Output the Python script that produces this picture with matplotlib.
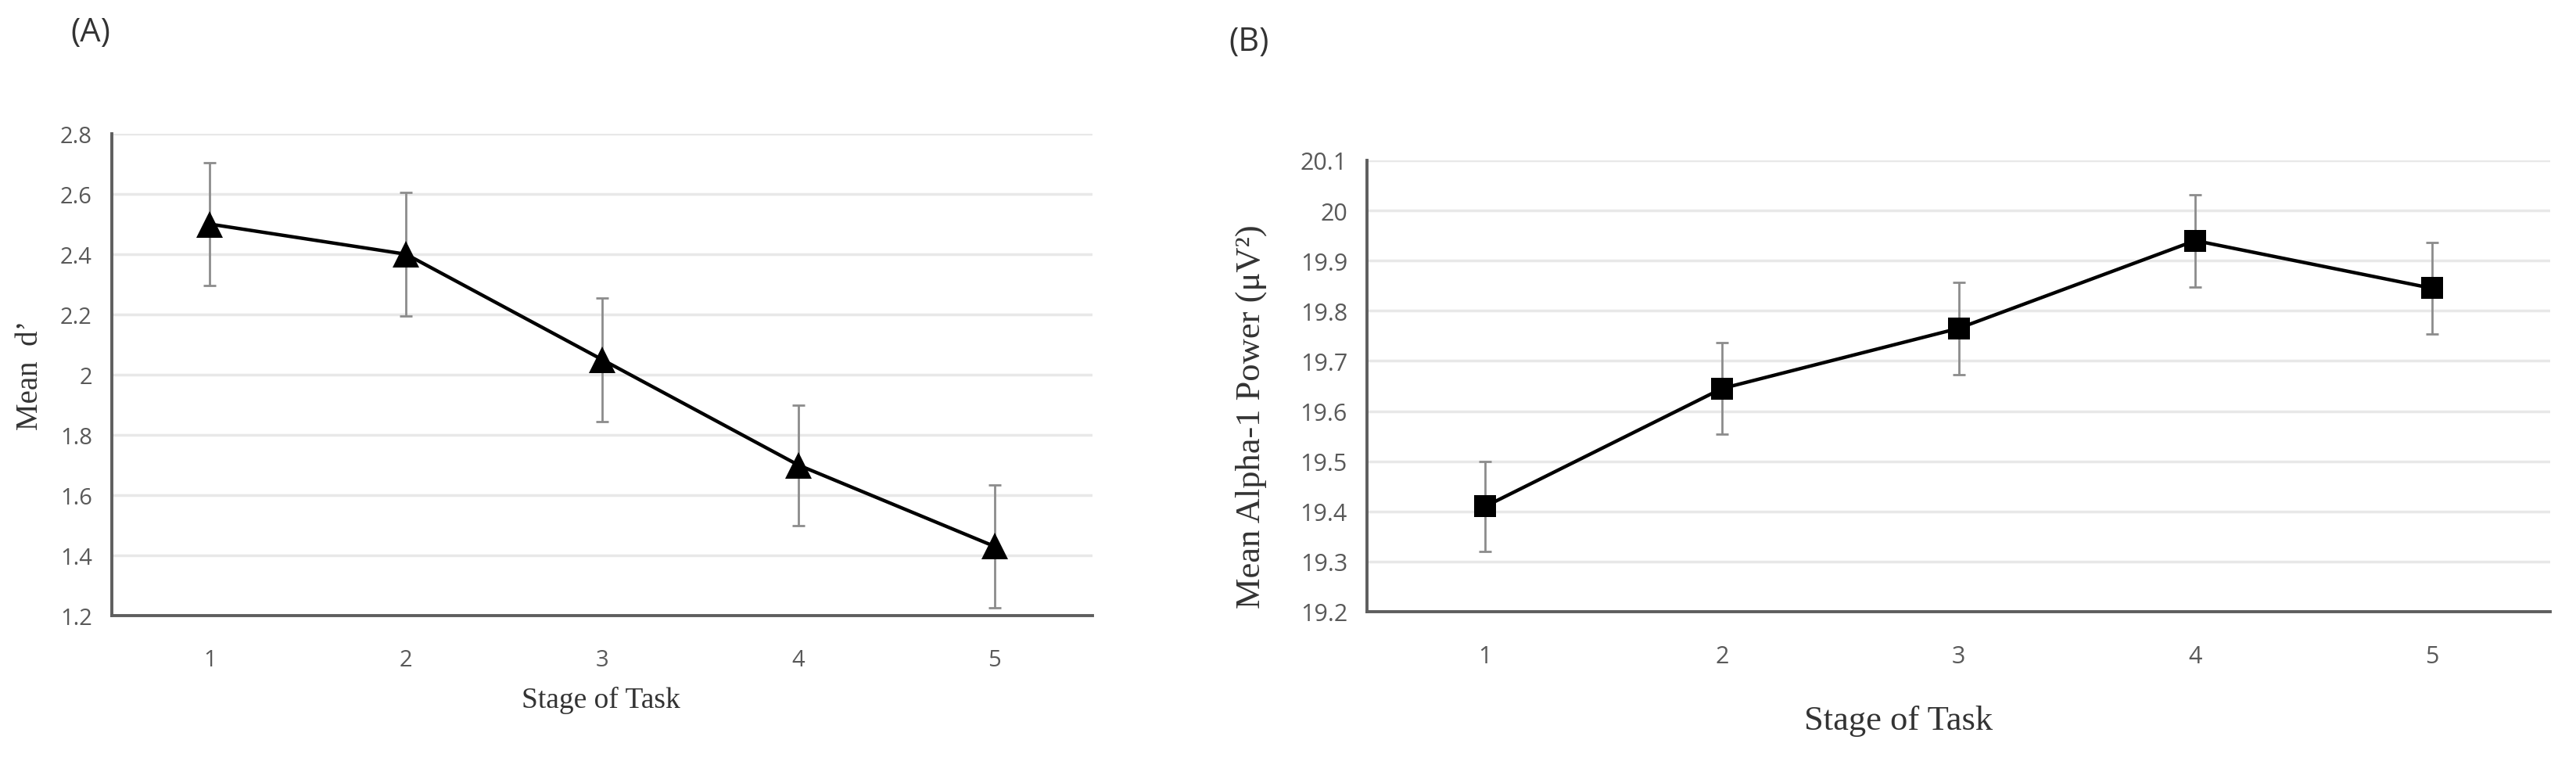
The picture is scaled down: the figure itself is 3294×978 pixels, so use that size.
import matplotlib
matplotlib.use('Agg')
import matplotlib.pyplot as plt
from matplotlib.ticker import FuncFormatter
import numpy as np

stages = [1, 2, 3, 4, 5]
stage_labels = ['1', '2', '3', '4', '5']

d_prime = [2.50, 2.40, 2.05, 1.70, 1.43]
d_prime_err = [0.205, 0.205, 0.205, 0.20, 0.205]

alpha1 = [19.41, 19.645, 19.765, 19.94, 19.845]
alpha1_err = [0.09, 0.091, 0.092, 0.092, 0.092]

W, H = 3294, 979
fig = plt.figure(figsize=(W / 100, H / 100), dpi=100)

tick_font = 'Open Sans'
label_font = 'Liberation Serif'
tick_color = '#595959'
spine_color = '#5e5e5e'
grid_color = '#e8e8e8'
err_color = '#8c8c8c'


def px_axes(x0, y0, x1, y1):
    # pixel box (left, top, right, bottom) -> figure fraction
    return fig.add_axes([x0 / W, 1 - y1 / H, (x1 - x0) / W, (y1 - y0) / H])


def style(ax, yticks, tick_size):
    for s in ['top', 'right']:
        ax.spines[s].set_visible(False)
    for s in ['left', 'bottom']:
        ax.spines[s].set_color(spine_color)
        ax.spines[s].set_linewidth(2.8)
    ax.set_xlim(0.5, 5.5)
    ax.set_ylim(yticks[0], yticks[-1])
    ax.set_yticks(yticks)
    ax.set_xticks(stages)
    ax.set_xticklabels(stage_labels)
    ax.yaxis.set_major_formatter(FuncFormatter(lambda v, p: f'{round(v, 1):g}'))
    ax.grid(axis='y', color=grid_color, linewidth=2.5, zorder=0)
    ax.set_axisbelow(True)
    ax.tick_params(length=0, labelsize=tick_size, labelcolor=tick_color)
    ax.tick_params(axis='y', pad=18)
    ax.tick_params(axis='x', pad=30)
    for lab in ax.get_xticklabels() + ax.get_yticklabels():
        lab.set_fontfamily(tick_font)


# (A) Mean d'
axA = px_axes(143, 172, 1397, 788)
style(axA, np.arange(1.2, 2.81, 0.2), 21)
axA.errorbar(stages, d_prime, yerr=d_prime_err, fmt='none', ecolor=err_color,
             elinewidth=2, capsize=6, capthick=2, zorder=2)
axA.plot(stages, d_prime, color='black', linewidth=3.2, marker='^',
         markersize=25, markeredgewidth=0, zorder=3)
axA.set_ylabel('Mean  d\u2019', fontfamily=label_font, fontsize=28, color='#333333')
axA.yaxis.label.set(ha='center', va='center', rotation_mode='anchor')
axA.yaxis.set_label_coords((39 - 143) / 1254, (788 - 480) / 616)
axA.set_xlabel('Stage of Task', fontfamily=label_font, fontsize=27, color='#333333')
axA.xaxis.label.set(ha='center', va='center')
axA.xaxis.set_label_coords((768 - 143) / 1254, (788 - 895) / 616)

# (B) Mean Alpha-1 Power
axB = px_axes(1748, 206, 3261, 783)
style(axB, np.arange(19.2, 20.11, 0.1), 22)
axB.errorbar(stages, alpha1, yerr=alpha1_err, fmt='none', ecolor=err_color,
             elinewidth=2, capsize=6, capthick=2, zorder=2)
axB.plot(stages, alpha1, color='black', linewidth=3.2, marker='s',
         markersize=19.5, markeredgewidth=0, zorder=3)
axB.set_ylabel('Mean Alpha-1 Power (\u03bcV\u00b2)', fontfamily=label_font,
               fontsize=32, color='#333333')
axB.yaxis.label.set(ha='center', va='center', rotation_mode='anchor')
axB.yaxis.set_label_coords((1600 - 1748) / 1513, (783 - 533) / 577)
axB.set_xlabel('Stage of Task', fontfamily=label_font, fontsize=32, color='#333333')
axB.xaxis.label.set(ha='center', va='center')
axB.xaxis.set_label_coords((2428 - 1748) / 1513, (783 - 922) / 577)

fig.text(116 / W, 1 - 42 / H, '(A)', fontfamily=tick_font, fontsize=30,
         color='#333333', ha='center', va='center')
fig.text(1597 / W, 1 - 54 / H, '(B)', fontfamily=tick_font, fontsize=30,
         color='#333333', ha='center', va='center')

fig.savefig('out.png', dpi=100, facecolor='white')
